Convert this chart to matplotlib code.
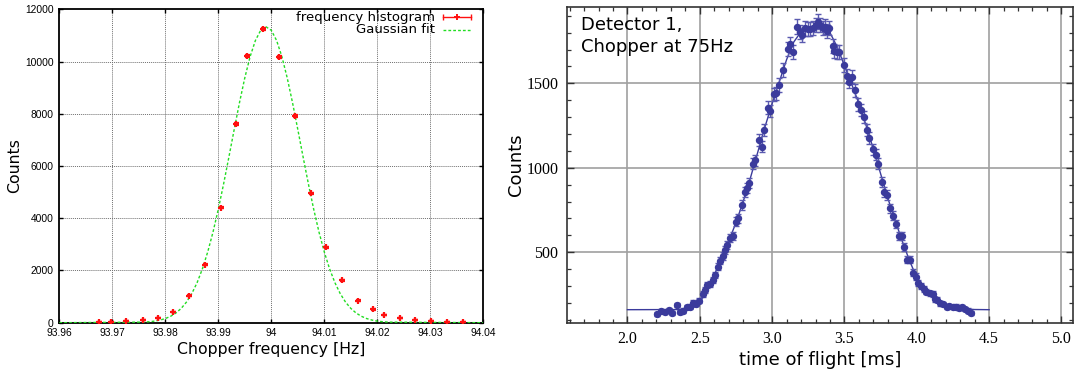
import matplotlib
matplotlib.use("Agg")
import matplotlib.pyplot as plt
import numpy as np

plt.rcParams['font.family'] = ['DejaVu Sans']

# ---------------- left panel: frequency histogram ----------------
freq_x = [93.9675, 93.9697, 93.9726, 93.9757, 93.9786, 93.9815, 93.9845, 93.9875,
          93.9905, 93.9934, 93.9954, 93.9984, 94.0014, 94.0044, 94.0074, 94.0103,
          94.0133, 94.0163, 94.0192, 94.0213, 94.0242, 94.0271, 94.0301, 94.0331,
          94.0362]
freq_counts = [25, 30, 64, 100, 166, 420, 1034, 2221,
               4404, 7596, 10200, 11234, 10187, 7915, 4953, 2885,
               1621, 843, 511, 294, 166, 102, 64, 40,
               15]
freq_err = [2, 2, 3, 4, 5, 8, 13, 19,
            27, 35, 40, 42, 40, 36, 28, 21,
            16, 12, 9, 7, 5, 4, 3, 3,
            2]

gfit_x = [93.960, 93.976, 93.977, 93.978, 93.979, 93.980, 93.981, 93.982, 93.983,
          93.984, 93.985, 93.986, 93.987, 93.988, 93.989, 93.990, 93.991,
          93.992, 93.993, 93.994, 93.995, 93.996, 93.997, 93.998, 93.999,
          94.000, 94.001, 94.002, 94.003, 94.004, 94.005, 94.006, 94.007,
          94.008, 94.009, 94.010, 94.011, 94.012, 94.013, 94.014, 94.015,
          94.016, 94.017, 94.018, 94.019, 94.020, 94.021, 94.022, 94.040]
gfit_y = [0, 22, 37, 61, 100, 158, 245, 371, 548,
          791, 1114, 1533, 2061, 2707, 3469, 4344, 5313,
          6345, 7400, 8429, 9376, 10186, 10806, 11197, 11330,
          11197, 10806, 10186, 9376, 8429, 7400, 6345, 5313,
          4344, 3469, 2707, 2061, 1533, 1114, 791, 548,
          371, 245, 158, 100, 61, 37, 22, 0]

left_xticks = [93.96, 93.97, 93.98, 93.99, 94.00, 94.01, 94.02, 94.03, 94.04]
left_xticklabels = ["93.96", "93.97", "93.98", "93.99", "94", "94.01", "94.02", "94.03", "94.04"]
left_yticks = [0, 2000, 4000, 6000, 8000, 10000, 12000]

# ---------------- right panel: time of flight ----------------
tof_x = [2.205, 2.230, 2.260, 2.290, 2.311, 2.341, 2.364, 2.387, 2.410, 2.433,
         2.451, 2.474, 2.497, 2.520, 2.536, 2.553, 2.571, 2.590, 2.606, 2.624,
         2.640, 2.659, 2.675, 2.691, 2.709, 2.728, 2.751, 2.767, 2.790, 2.813,
         2.824, 2.843, 2.868, 2.884, 2.909, 2.928, 2.946, 2.969, 2.985, 3.013,
         3.027, 3.050, 3.073, 3.112, 3.124, 3.147, 3.174, 3.193, 3.209, 3.227,
         3.246, 3.262, 3.280, 3.301, 3.315, 3.331, 3.349, 3.365, 3.381, 3.395,
         3.418, 3.430, 3.446, 3.464, 3.497, 3.515, 3.533, 3.550, 3.573, 3.596,
         3.612, 3.635, 3.656, 3.672, 3.695, 3.715, 3.734, 3.757, 3.775, 3.791,
         3.814, 3.833, 3.856, 3.879, 3.895, 3.911, 3.934, 3.952, 3.971, 3.994,
         4.010, 4.028, 4.049, 4.067, 4.090, 4.109, 4.125, 4.141, 4.164, 4.183,
         4.206, 4.224, 4.247, 4.270, 4.293, 4.316, 4.332, 4.355, 4.378]
tof_counts = [133, 153, 147, 159, 143, 188, 145, 155, 175, 178,
              202, 194, 214, 253, 277, 307, 313, 336, 366, 415,
              449, 478, 514, 543, 583, 597, 681, 701, 780, 859,
              878, 908, 1025, 1045, 1165, 1125, 1222, 1356, 1336, 1435,
              1441, 1490, 1579, 1705, 1731, 1687, 1835, 1802, 1786, 1825,
              1821, 1821, 1829, 1845, 1865, 1845, 1829, 1835, 1810, 1829,
              1721, 1691, 1683, 1687, 1608, 1543, 1510, 1539, 1460, 1376,
              1342, 1303, 1222, 1175, 1109, 1076, 1023, 918, 859, 839,
              760, 715, 668, 597, 597, 533, 455, 455, 380, 356,
              320, 301, 281, 267, 257, 254, 222, 218, 198, 194,
              178, 182, 175, 178, 169, 174, 163, 155, 143]

tfit_x = [2.00, 2.40, 2.45, 2.50, 2.55, 2.60, 2.65, 2.70, 2.75, 2.80, 2.85, 2.90,
          2.95, 3.00, 3.05, 3.10, 3.15, 3.20, 3.25, 3.30, 3.35, 3.40, 3.45, 3.50,
          3.55, 3.60, 3.65, 3.70, 3.75, 3.80, 3.85, 3.90, 3.95, 4.00, 4.05, 4.10,
          4.15, 4.20, 4.25, 4.30, 4.35, 4.40, 4.50]
tfit_y = [160, 161, 168, 200, 280, 365, 462, 565, 675, 800, 940, 1090,
          1240, 1380, 1510, 1640, 1745, 1805, 1828, 1838, 1838, 1800, 1715, 1605,
          1495, 1380, 1250, 1110, 965, 820, 690, 565, 450, 350, 285, 245,
          215, 193, 179, 170, 164, 161, 160]

right_xticks = [2.0, 2.5, 3.0, 3.5, 4.0, 4.5, 5.0]
right_xticklabels = ["2.0", "2.5", "3.0", "3.5", "4.0", "4.5", "5.0"]
right_yticks = [500, 1000, 1500]
right_yticklabels = ["500", "1000", "1500"]

W, H = 1075, 369
fig = plt.figure(figsize=(W / 100, H / 100), dpi=100)

# ---------------- left axes ----------------
axL = fig.add_axes([59.3 / W, 1 - 322.7 / H, (483.3 - 59.3) / W, (322.7 - 9.3) / H])
axL.set_xlim(93.96, 94.04)
axL.set_ylim(0, 12000)
axL.set_xticks(left_xticks)
axL.set_xticklabels(left_xticklabels)
axL.set_yticks(left_yticks)
for v in left_xticks[1:-1]:
    axL.axvline(v, color='#707070', lw=0.7, ls=(0, (1, 1)), zorder=0)
for v in left_yticks[1:-1]:
    axL.axhline(v, color='#707070', lw=0.7, ls=(0, (1, 1)), zorder=0)
axL.tick_params(direction='in', length=3, width=1, top=True, right=True,
                labelsize=7.4)
axL.tick_params(axis='x', pad=4)
axL.tick_params(axis='y', pad=4)
for lab in axL.get_xticklabels() + axL.get_yticklabels():
    lab.set_fontfamily('Liberation Sans')
for s in axL.spines.values():
    s.set_linewidth(1.3)
    s.set_color('black')

axL.plot(gfit_x, gfit_y, color='#22dd22', lw=1.0, ls=(0, (2, 1.5)), zorder=3)
axL.errorbar(freq_x, freq_counts, yerr=freq_err, fmt='+', color='#ff1010',
             ms=5, mew=1.6, elinewidth=1.0, capsize=1.8, capthick=1.0, zorder=4)

axL.set_xlabel("Chopper frequency [Hz]", fontsize=11.3, labelpad=3)
axL.set_ylabel("Counts", fontsize=11.3, labelpad=2)

# gnuplot-style key (text right aligned, sample on the right)
tr = axL.transAxes
axL.text(0.886, 0.974, "frequency histogram", transform=tr, ha='right', va='center', fontsize=9.5)
axL.text(0.886, 0.934, "Gaussian fit", transform=tr, ha='right', va='center', fontsize=9.5)
axL.plot([0.904, 0.971], [0.974, 0.974], transform=tr, color='#ff1010', lw=1.0, clip_on=False)
axL.plot([0.904, 0.971], [0.974, 0.974], transform=tr, color='#ff1010', ls='none',
         marker='|', ms=5, mew=1.0, clip_on=False)
axL.plot([0.9375], [0.974], transform=tr, color='#ff1010', marker='+', ms=5, mew=1.4, clip_on=False)
axL.plot([0.904, 0.971], [0.934, 0.934], transform=tr, color='#22dd22', lw=1.0,
         ls=(0, (2, 1.5)), clip_on=False)

# ---------------- right axes ----------------
axR = fig.add_axes([566.7 / W, 1 - 322.7 / H, (1073 - 566.7) / W, (322.7 - 7.3) / H])
axR.set_xlim(1.58, 5.08)
axR.set_ylim(83, 1950)
axR.set_xticks(right_xticks)
axR.set_xticklabels(right_xticklabels)
axR.set_yticks(right_yticks)
axR.set_yticklabels(right_yticklabels)
axR.xaxis.set_minor_locator(matplotlib.ticker.MultipleLocator(0.1))
axR.yaxis.set_minor_locator(matplotlib.ticker.MultipleLocator(100))
axR.grid(True, which='major', color='#a0a0a0', lw=1.2, zorder=0)
axR.set_axisbelow(True)
axR.tick_params(which='both', direction='in', top=True, right=True, color='#333333')
axR.tick_params(which='major', length=5, width=1.0, labelsize=11.5, pad=6)
axR.tick_params(which='minor', length=3, width=0.9)
for lab in axR.get_xticklabels() + axR.get_yticklabels():
    lab.set_fontfamily('Liberation Serif')
for s in axR.spines.values():
    s.set_linewidth(1.2)
    s.set_color('#333333')

blue = '#3b3b9c'
axR.plot(tfit_x, tfit_y, color=blue, lw=1.0, zorder=3)
axR.errorbar(tof_x, tof_counts, yerr=np.sqrt(tof_counts), fmt='o', color=blue,
             ecolor='#5a5ab0', ms=4.3, elinewidth=1.0, capsize=2.2, capthick=1.0, zorder=4)

axR.text(0.029, 0.972, "Detector 1,\nChopper at 75Hz", transform=axR.transAxes,
         ha='left', va='top', fontsize=13, linespacing=1.25)
axR.set_xlabel("time of flight [ms]", fontsize=13, labelpad=3)
axR.set_ylabel("Counts", fontsize=13, labelpad=1)

fig.savefig("out.png", dpi=100)
